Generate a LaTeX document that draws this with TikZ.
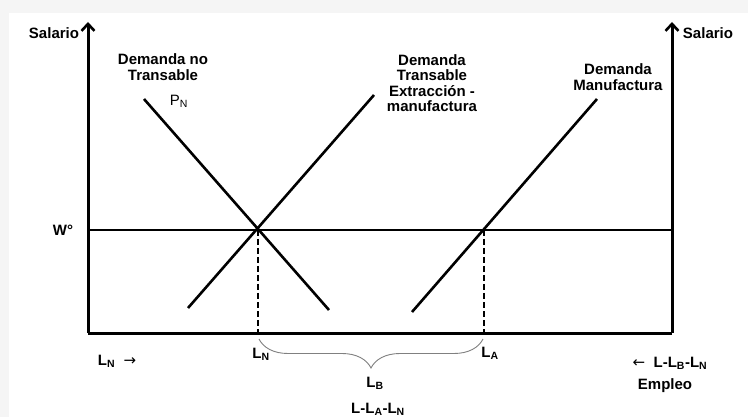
\documentclass[tikz,border=0pt]{standalone}
\usepackage{fontspec}
\setmainfont{Liberation Sans}
\usetikzlibrary{arrows.meta,decorations.pathreplacing}
\begin{document}
\begin{tikzpicture}[x=1pt,y=-1pt,
  axis/.style={line width=3pt},
  curve/.style={line width=2.6pt},
  lbl/.style={font=\fontsize{15}{15.5}\selectfont\bfseries,align=center,inner sep=1pt},
  plain/.style={font=\fontsize{15}{15.5}\selectfont,inner sep=1pt},
  guide/.style={line width=2.6pt,dash pattern=on 6pt off 3pt},
  tip/.style={-{Straight Barb[length=7pt,width=13pt,line width=2.6pt]}}]
\useasboundingbox (0,0) rectangle (748,417);
\fill[black!4] (0,0) rectangle (748,417);
\fill[white] (9,13) rectangle (748,417);
% axes
\coordinate (O) at (88,333);
\coordinate (TL) at (88,22);
\coordinate (R) at (672,333);
\coordinate (TR) at (672,22);
\coordinate (WL) at (88,230);
\coordinate (WR) at (672,230);
\draw[axis,tip] (O) -- (TL);
\draw[axis,tip] (R) -- (TR);
\draw[axis] (O) -- (R);
\draw[curve] (WL) -- (WR);
% demand curves
\coordinate (N1) at (144,99);
\coordinate (N2) at (329,310);
\coordinate (T1) at (188,308);
\coordinate (T2) at (374,95);
\coordinate (M1) at (412,312);
\coordinate (M2) at (597,99);
\draw[curve] (N1) -- (N2);
\draw[curve] (T1) -- (T2);
\draw[curve] (M1) -- (M2);
% equilibria
\coordinate (EN) at (258,230);
\coordinate (EA) at (484,230);
\coordinate (BN) at (258,333);
\coordinate (BA) at (484,333);
\draw[guide] (EN) -- (BN);
\draw[guide] (EA) -- (BA);
% brace
\coordinate (B1) at (259,339);
\coordinate (B2) at (483,339);
\draw[black!50,line width=0.9pt,decorate,decoration={brace,mirror,amplitude=29pt,aspect=0.5}] (B1) -- (B2);
% labels
\node[lbl] (salL) at (54,33) {Salario};
\node[lbl] (salR) at (708,33) {Salario};
\node[lbl] (dnt) at (163,67) {Demanda no\\Transable};
\node[plain] (pn) at (179,101) {P\textsubscript{N}};
\node[lbl] (dt) at (432,83) {Demanda\\Transable\\Extracción -\\manufactura};
\node[lbl] (dm) at (618,77) {Demanda\\Manufactura};
\node[lbl] (w) at (63,230) {W°};
\node[lbl] (ln) at (261,354) {L\textsubscript{N}};
\node[lbl] (la) at (490,353) {L\textsubscript{A}};
\node[lbl] (lb) at (375,383) {L\textsubscript{B}};
\node[lbl] (lal) at (378,409) {L-L\textsubscript{A}-L\textsubscript{N}};
\node[lbl] (lnarr) at (117,361) {L\textsubscript{N} \ {\fontspec{DejaVu Sans}\mdseries →}};
\node[lbl] (lbarr) at (670,363) {{\fontspec{DejaVu Sans}\mdseries ←} \ L-L\textsubscript{B}-L\textsubscript{N}};
\node[lbl] (emp) at (665,386) {Empleo};
\end{tikzpicture}
\end{document}
